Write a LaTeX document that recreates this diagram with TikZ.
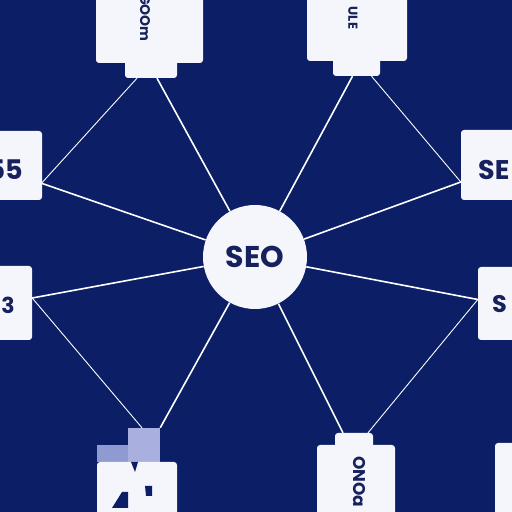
\documentclass[tikz,border=0pt]{standalone}
\usepackage{fontspec}
\setmainfont{Poppins}
\definecolor{navy}{HTML}{0B1E66}
\definecolor{ink}{HTML}{16215E}
\definecolor{paper}{HTML}{F5F6FB}
\definecolor{haze}{HTML}{8E9AD0}
\definecolor{lilac}{HTML}{A9B0E0}
\tikzset{
  card/.style={fill=paper, rounded corners=3pt, inner sep=0pt},
  tagtext/.style={text=ink, inner sep=0pt},
  spoke/.style={white, line width=1.6pt},
  link/.style={white, line width=0.9pt}
}
\newcommand{\fsz}[1]{\bfseries\fontsize{#1}{#1}\selectfont}
\begin{document}
\begin{tikzpicture}[x=1pt,y=1pt]
  \fill[navy] (0,0) rectangle (512,512);
  \clip (0,0) rectangle (512,512);

  % hub
  \node (seo) [circle, fill=paper, inner sep=0pt, minimum size=104pt, tagtext, font=\fsz{30}] at (255,255) {SEO};

  % top cards
  \node (tl)  [card, minimum width=107pt, minimum height=73pt] at (149.5,485.5) {};
  \node (tlt) [card, minimum width=52pt, minimum height=23pt] at (151,445.5) {};
  \node (tlx) [tagtext, rotate=-90, font=\fsz{14}] at (145,494) {GOOm};
  \node (tr)  [card, minimum width=100pt, minimum height=71pt] at (357,486.5) {};
  \node (trt) [card, minimum width=47pt, minimum height=21pt] at (356.5,446.5) {};
  \node (trx) [tagtext, rotate=-90, font=\fsz{13}] at (353,494) {ULE};

  % side cards
  \node (l1) [card, minimum width=52pt, minimum height=69pt] at (16,346.5) {};
  \node (l1x) [tagtext, anchor=east, font=\fsz{27}] at (23,342) {55};
  \node (r1) [card, minimum width=61pt, minimum height=70pt] at (491.5,347) {};
  \node (r1x) [tagtext, anchor=west, font=\fsz{27}] at (478,342) {SE};
  \node (l2) [card, minimum width=42pt, minimum height=74pt] at (11,209) {};
  \node (l2x) [tagtext, anchor=east, font=\fsz{22}] at (15,207) {3};
  \node (r2) [card, minimum width=44pt, minimum height=73pt] at (500,208.5) {};
  \node (r2x) [tagtext, anchor=west, font=\fsz{24}] at (492,208) {S};

  % bottom cards
  \fill[haze] (97,50) rectangle (160,67);
  \fill[lilac] (128,50) rectangle (160,67);
  \node (blt) [fill=lilac, inner sep=0pt, minimum width=32pt, minimum height=17pt] at (144,75.5) {};
  \node (bl) [card, minimum width=80pt, minimum height=60pt] at (137,20) {};
  \fill[navy] (131,50) -- (138,50) -- (135,40) -- cycle;
  \fill[navy] (112,4) -- (128,4) -- (128,20) -- (122,20) -- cycle;
  \fill[navy] (145,26) -- (152,26) -- (152,16) -- (146,16) -- cycle;
  \node (bmt) [card, minimum width=38pt, minimum height=18pt] at (354,70) {};
  \node (bm)  [card, minimum width=78pt, minimum height=77pt] at (356,28.5) {};
  \node (bmx) [tagtext, rotate=-90, font=\fsz{17}] at (359,30) {ONOa};
  \node (br)  [card, minimum width=27pt, minimum height=79pt] at (508.5,29.5) {};

  % connectors
  \draw [spoke] ([xshift=6]tlt.south) -- (seo);
  \draw [link]  ([xshift=-14]tlt.south) -- ([yshift=-17]l1.east);
  \draw [spoke] ([xshift=-4]trt.south) -- (seo);
  \draw [link]  ([xshift=15]trt.south) -- ([yshift=-17]r1.west);
  \draw [spoke] ([yshift=-18]l1.east) -- (seo);
  \draw [spoke] ([yshift=-17]r1.west) -- (seo);
  \draw [spoke] ([yshift=5]l2.east) -- (seo);
  \draw [link]  ([yshift=5]l2.east) -- ([xshift=-2]blt.north);
  \draw [spoke] ([yshift=4]r2.west) -- (seo);
  \draw [link]  ([yshift=4]r2.west) -- ([xshift=14]bmt.north);
  \draw [spoke] (blt.north east) -- (seo);
  \draw [spoke] ([xshift=-11]bmt.north) -- (seo);
\end{tikzpicture}
\end{document}
